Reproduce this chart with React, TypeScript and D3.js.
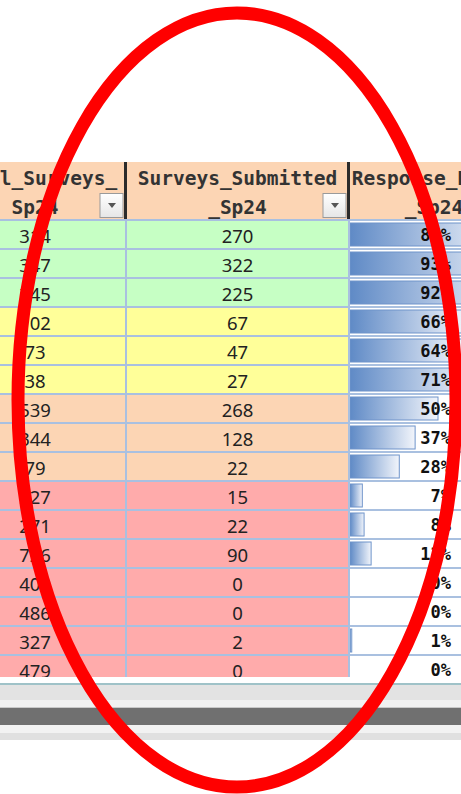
import React, { useEffect, useRef } from 'react';
import * as d3 from 'd3';

// table content
const headers = [
  ['Total_Surveys_', 'Sp24'],
  ['Surveys_Submitted', '_Sp24'],
  ['Response_Rate_', '_Sp24'],
];
const totalSurveys = [314, 347, 245, 102, 73, 38, 539, 344, 79, 227, 271, 726, 400, 486, 327, 479];
const submitted = [270, 322, 225, 67, 47, 27, 268, 128, 22, 15, 22, 90, 0, 0, 2, 0];
const responsePct = [86, 93, 92, 66, 64, 71, 50, 37, 28, 7, 8, 12, 0, 0, 1, 0];
const rowBand = ['green', 'green', 'green', 'yellow', 'yellow', 'yellow', 'peach', 'peach', 'peach',
  'red', 'red', 'red', 'red', 'red', 'red', 'red'];

const bandColors: Record<string, string> = {
  green: '#C6FFC4',
  yellow: '#FFFF99',
  peach: '#FCD5B4',
  red: '#FFABAB',
};

export default function App() {
  const svgRef = useRef<SVGSVGElement>(null);

  useEffect(() => {
    const svg = d3.select(svgRef.current);
    svg.selectAll('*').remove();

    const width = 461;
    const height = 794;
    const headTop = 162;
    const headBottom = 220;
    const tableBottom = 677;
    const cols = [
      { x0: -56, x1: 126 },
      { x0: 126, x1: 349 },
      { x0: 349, x1: 527 },
    ];
    const colCenter = (i: number) => (cols[i].x0 + cols[i].x1) / 2;

    const y = d3.scaleBand<number>()
      .domain(d3.range(totalSurveys.length))
      .range([headBottom, headBottom + 29 * totalSurveys.length])
      .paddingInner(0)
      .paddingOuter(0);
    const barX = d3.scaleLinear().domain([0, 100]).range([0, 176]);

    svg.append('rect').attr('width', width).attr('height', height).attr('fill', '#fff');

    const defs = svg.append('defs');
    defs.append('clipPath').attr('id', 'tableClip')
      .append('rect').attr('x', 0).attr('y', 0).attr('width', width).attr('height', tableBottom);
    const grad = defs.append('linearGradient').attr('id', 'barGrad')
      .attr('x1', '0%').attr('x2', '100%').attr('y1', '0%').attr('y2', '0%');
    grad.append('stop').attr('offset', '0%').attr('stop-color', '#5F8AC6');
    grad.append('stop').attr('offset', '100%').attr('stop-color', '#F2F5FB');
    const btnGrad = defs.append('linearGradient').attr('id', 'btnGrad')
      .attr('x1', '0%').attr('x2', '0%').attr('y1', '0%').attr('y2', '100%');
    btnGrad.append('stop').attr('offset', '0%').attr('stop-color', '#ffffff');
    btnGrad.append('stop').attr('offset', '100%').attr('stop-color', '#e6e6e6');

    const table = svg.append('g').attr('clip-path', 'url(#tableClip)');

    // header
    table.append('rect')
      .attr('x', 0).attr('y', headTop).attr('width', width).attr('height', headBottom - headTop)
      .attr('fill', '#FCD5B4');
    headers.forEach((lines, i) => {
      lines.forEach((t, j) => {
        table.append('text')
          .attr('x', colCenter(i) + (i === 2 ? -4 : 0))
          .attr('y', 185 + j * 29)
          .attr('text-anchor', 'middle')
          .attr('font-family', 'DejaVu Sans Mono, monospace')
          .attr('font-size', 19.5)
          .attr('font-weight', 'bold')
          .attr('fill', '#333')
          .text(t);
      });
    });
    // filter buttons
    [0, 1].forEach(i => {
      const bx = cols[i].x1 - 26;
      table.append('rect')
        .attr('x', bx).attr('y', 193.5).attr('width', 23).attr('height', 24)
        .attr('fill', 'url(#btnGrad)').attr('stroke', '#9a9a9a');
      table.append('path')
        .attr('d', `M${bx + 8},${203} L${bx + 16},${203} L${bx + 12},${208} Z`)
        .attr('fill', '#555');
    });
    // thick header separators
    [cols[0].x1, cols[1].x1].forEach(x => {
      table.append('rect')
        .attr('x', x - 2).attr('y', headTop).attr('width', 3).attr('height', headBottom - headTop)
        .attr('fill', '#2b2b2b');
    });

    // rows
    const rows = table.selectAll('g.row')
      .data(totalSurveys.map((t, i) => i))
      .join('g')
      .attr('class', 'row')
      .attr('transform', i => `translate(0,${y(i)})`);

    rows.append('rect')
      .attr('x', 0).attr('width', cols[1].x1).attr('height', y.bandwidth())
      .attr('fill', i => bandColors[rowBand[i]]);

    rows.append('rect')
      .attr('x', cols[2].x0 + 1).attr('y', 3)
      .attr('width', i => Math.max(barX(responsePct[i]), responsePct[i] > 0 ? 1 : 0))
      .attr('height', y.bandwidth() - 6)
      .attr('fill', 'url(#barGrad)')
      .attr('stroke', i => (responsePct[i] > 0 ? '#6E93CA' : 'none'))
      .attr('stroke-width', 1);

    rows.append('text')
      .attr('x', colCenter(0)).attr('y', 23)
      .attr('text-anchor', 'middle')
      .attr('font-family', 'Noto Sans, sans-serif').attr('font-size', 18.5).attr('fill', '#222')
      .text(i => totalSurveys[i]);
    rows.append('text')
      .attr('x', colCenter(1)).attr('y', 23)
      .attr('text-anchor', 'middle')
      .attr('font-family', 'Noto Sans, sans-serif').attr('font-size', 18.5).attr('fill', '#222')
      .text(i => submitted[i]);
    rows.append('text')
      .attr('x', 451).attr('y', 21)
      .attr('text-anchor', 'end')
      .attr('font-family', 'DejaVu Sans Mono, monospace').attr('font-size', 17)
      .attr('font-weight', 'bold').attr('fill', '#111')
      .text(i => `${responsePct[i]}%`);

    // grid lines
    const grid = '#A9C0E0';
    y.domain().forEach(i => {
      table.append('rect')
        .attr('x', 0).attr('y', (y(i) as number) - 1).attr('width', width).attr('height', 2)
        .attr('fill', grid);
    });
    [cols[0].x1, cols[1].x1].forEach(x => {
      table.append('rect')
        .attr('x', x - 1).attr('y', headBottom).attr('width', 2).attr('height', tableBottom - headBottom)
        .attr('fill', grid);
    });

    // scrollbar strip below the sheet
    const strips = [
      { y0: 683, y1: 685, c: '#9FC2C8' },
      { y0: 685, y1: 700, c: '#E3E3E3' },
      { y0: 700, y1: 707, c: '#F1F1F1' },
      { y0: 707, y1: 708, c: '#C8C8C8' },
      { y0: 708, y1: 725, c: '#707070' },
      { y0: 725, y1: 733, c: '#F2F2F2' },
      { y0: 733, y1: 740, c: '#E0E0E0' },
    ];
    svg.selectAll('rect.strip')
      .data(strips)
      .join('rect')
      .attr('class', 'strip')
      .attr('x', 0).attr('width', width)
      .attr('y', d => d.y0).attr('height', d => d.y1 - d.y0)
      .attr('fill', d => d.c);

    // red annotation ellipse
    svg.append('ellipse')
      .attr('cx', 237).attr('cy', 400).attr('rx', 219).attr('ry', 387)
      .attr('fill', 'none').attr('stroke', '#FF0000').attr('stroke-width', 13);
  }, []);

  return (
    <div style={{ position: 'absolute', left: 0, top: 0 }}>
      <svg ref={svgRef} width={461} height={794} style={{ display: 'block' }}></svg>
    </div>
  );
}
